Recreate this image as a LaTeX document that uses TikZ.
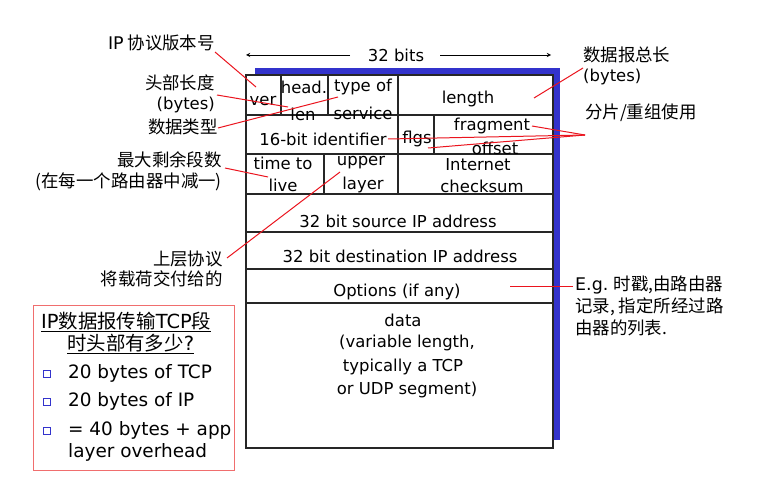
\documentclass[tikz,border=0pt]{standalone}
\usepackage{fontspec}
\setmainfont{DejaVu Sans}
\newfontfamily\cjk{Noto Sans CJK SC}
\definecolor{shadowblue}{RGB}{51,51,204}
\definecolor{redl}{RGB}{235,20,30}
\definecolor{pinkb}{RGB}{240,110,110}
\begin{document}
\begin{tikzpicture}[x=1bp,y=-1bp,
  fld/.style={inner sep=0pt, font=\fontsize{16.5}{18}\selectfont},
  zh/.style={inner sep=0pt, font=\fontsize{17.5}{20}\selectfont\cjk},
  zhq/.style={inner sep=0pt, font=\fontsize{19.5}{22}\selectfont\cjk},
  zhl/.style={inner sep=0pt, font=\fontsize{16.5}{20}\selectfont},
  lst/.style={inner sep=0pt, anchor=west, font=\fontsize{18.5}{20}\selectfont},
  grid/.style={line width=1.2pt, draw=black!85},
  redline/.style={draw=redl, line width=1pt},
  bulletsq/.style={draw=shadowblue, line width=0.9pt, minimum size=7bp, inner sep=0pt}
]
\useasboundingbox (0,0) rectangle (761,499);
\fill[white] (0,0) rectangle (761,499);

% header box with shadow
\fill[shadowblue] (255,68) rectangle (560,440);
\draw[grid, fill=white] (246,75) rectangle (553,448);
\foreach \yy in {115,154,194,232,269,303} \draw[grid] (246,\yy) -- (553,\yy);
\draw[grid] (281,75) -- (281,115);
\draw[grid] (328,75) -- (328,115);
\draw[grid] (398,75) -- (398,194);
\draw[grid] (434,115) -- (434,154);
\draw[grid] (324,154) -- (324,194);

% 32 bits
\node[fld] (bits) at (396,55) {32 bits};
\coordinate (bl) at (246,55);
\coordinate (br) at (551,55);
\coordinate (blS) at (350,55);
\coordinate (brS) at (440,55);
\draw[-stealth, line width=0.9pt] (blS) -- (bl);
\draw[-stealth, line width=0.9pt] (brS) -- (br);

% field texts
\node[fld] (ver) at (263,101) {ver};
\node[fld] (head) at (304,87) {head.};
\node[fld] (len) at (303,114) {len};
\node[fld] (tos1) at (363,87) {type of};
\node[fld] (tos2) at (363,113) {service};
\node[fld] (length) at (468,99) {length};
\node[fld] (ident) at (323,139) {16-bit identifier};
\node[fld] (flgs) at (417,139) {flgs};
\node[fld] (frag1) at (492,126) {fragment};
\node[fld] (frag2) at (495,148) {offset};
\node[fld] (ttl1) at (283,163) {time to};
\node[fld] (ttl2) at (283,185) {live};
\node[fld] (up1) at (361,163) {upper};
\node[fld] (up2) at (363,185) {layer};
\node[fld] (cs1) at (478,165) {Internet};
\node[fld] (cs2) at (482,186) {checksum};
\node[fld] (src) at (398,221) {32 bit source IP address};
\node[fld] (dst) at (400,256) {32 bit destination IP address};
\node[fld] (opt) at (397,292) {Options (if any)};
\node[fld] (d1) at (403,320) {data};
\node[fld] (d2) at (407,343) {(variable length,};
\node[fld] (d3) at (403,367) {typically a TCP};
\node[fld] (d4) at (407,390) {or UDP segment)};

% left labels
\node[zh, anchor=east] (lver) at (215,43) {{\rmfamily IP} 协议版本号};
\node[zh, anchor=east] (lhl1) at (215,83) {头部长度};
\node[zhl, anchor=east] (lhl2) at (215,105) {(bytes)};
\node[zh, anchor=east] (ltos) at (218,127) {数据类型};
\node[zh, anchor=east] (lttl1) at (222,160) {最大剩余段数};
\node[zh, anchor=east] (lttl2) at (222,182) {(在每一个路由器中减一)};
\node[zh, anchor=east] (lup1) at (223,259) {上层协议};
\node[zh, anchor=east] (lup2) at (223,279) {将载荷交付给的};

% right labels
\node[zh, anchor=west] (rlen1) at (583,55) {数据报总长};
\node[zhl, anchor=west] (rlen2) at (583,77) {(bytes)};
\node[zh, anchor=west] (rfrag) at (585,113) {分片/重组使用};
\node[zh, anchor=west] (ropt1) at (575,285) {{\rmfamily E.g.} 时戳,由路由器};
\node[zh, anchor=west] (ropt2) at (575,307) {记录, 指定所经过路};
\node[zh, anchor=west] (ropt3) at (575,328) {由器的列表.};

% connector end points
\coordinate (sver) at (215,52);   \coordinate (ever) at (256,87);
\coordinate (shl) at (217,95);    \coordinate (ehl) at (288,107);
\coordinate (stos) at (218,128);  \coordinate (etos) at (338,97);
\coordinate (sttl) at (225,168);  \coordinate (ettl) at (268,177);
\coordinate (sup) at (227,258);   \coordinate (eup) at (340,172);
\coordinate (slen) at (583,68);   \coordinate (elen) at (534,98);
\coordinate (sfrag) at (585,135);
\coordinate (efrag1) at (532,126);
\coordinate (efrag2) at (388,139);
\coordinate (efrag3) at (428,148);
\coordinate (sopt) at (573,286);  \coordinate (eopt) at (510,286);

\draw[redline] (sver) -- (ever);
\draw[redline] (shl) -- (ehl);
\draw[redline] (stos) -- (etos);
\draw[redline] (sttl) -- (ettl);
\draw[redline] (sup) -- (eup);
\draw[redline] (slen) -- (elen);
\draw[redline] (sfrag) -- (efrag1);
\draw[redline] (sfrag) -- (efrag2);
\draw[redline] (sfrag) -- (efrag3);
\draw[redline] (sopt) -- (eopt);

% bottom-left question box
\draw[draw=pinkb, line width=1pt] (33,305) rectangle (234,470);
\node[zhq, anchor=west] (q1) at (41,322) {\underline{{\rmfamily IP}数据报传输{\rmfamily TCP}段}};
\node[zhq, anchor=west] (q2) at (67,344) {\underline{时头部有多少{\rmfamily ?}}};
\node[bulletsq] (b1) at (47,374) {};
\node[bulletsq] (b2) at (47,402) {};
\node[bulletsq] (b3) at (47,431) {};
\node[lst] (t1) at (68,373) {20 bytes of TCP};
\node[lst] (t2) at (68,401) {20 bytes of IP};
\node[lst] (t3) at (68,430) {= 40 bytes + app};
\node[lst] (t4) at (68,452) {layer overhead};
\end{tikzpicture}
\end{document}
